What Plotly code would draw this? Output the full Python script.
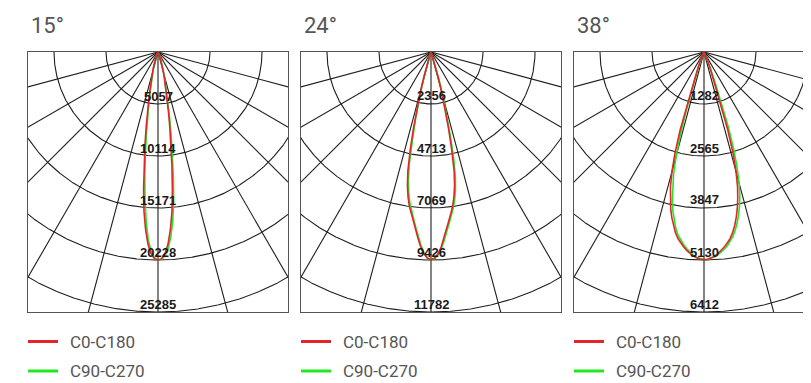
import numpy as np
import plotly.graph_objects as go

W, H = 811, 383
OFF = 8  # page body margin: the figure starts 8px in from the window corner

# angle from nadir (deg) for the intensity tables below
angles = [0, 1, 2, 3, 4, 5, 6, 7, 8, 9, 10, 11, 12, 13, 14, 15, 16, 17, 18, 19,
          20, 22, 25, 30, 40, 50, 60, 70, 80, 90]

titles = ["15°", "24°", "38°"]
legend_names = ["C0-C180", "C90-C270"]

# ring values (cd) per diagram
rings_15 = [5057, 10114, 15171, 20228, 25285]
rings_24 = [2356, 4713, 7069, 9426, 11782]
rings_38 = [1282, 2565, 3847, 5130, 6412]

# 15° beam
c0_c180_15 = [20250, 20100, 19600, 18700, 17300, 15600, 13400, 11100, 9100, 7300,
              5800, 4650, 3700, 3000, 2500, 2050, 1700, 1420, 1200, 980,
              800, 560, 350, 150, 60, 30, 15, 8, 4, 0]
c90_15 = [20250, 20150, 19800, 19100, 17950, 16500, 14500, 12300, 10100, 8200,
          6500, 5200, 4150, 3350, 2750, 2250, 1850, 1550, 1300, 1070,
          880, 610, 380, 165, 65, 32, 16, 8, 4, 0]
c270_15 = [20250, 20000, 19350, 18250, 16500, 14500, 12300, 10100, 8200, 6500,
           5200, 4150, 3300, 2700, 2250, 1850, 1550, 1300, 1100, 900,
           730, 510, 320, 135, 55, 28, 14, 7, 3, 0]

# 24° beam
c0_c180_24 = [9400, 9350, 9150, 8850, 8460, 8080, 7700, 7370, 7050, 6650,
              6150, 5500, 4500, 3500, 2600, 1800, 1150, 700, 450, 320,
              240, 140, 75, 35, 15, 8, 4, 2, 1, 0]
c90_24 = [9400, 9370, 9200, 8930, 8560, 8200, 7820, 7480, 7180, 6820,
          6380, 5800, 4950, 3900, 3000, 2150, 1400, 850, 540, 380,
          280, 150, 80, 38, 16, 8, 4, 2, 1, 0]
c270_24 = [9400, 9330, 9100, 8770, 8360, 7960, 7580, 7250, 6900, 6450,
           5900, 5150, 4000, 3100, 2250, 1500, 950, 580, 380, 270,
           200, 110, 60, 30, 14, 7, 4, 2, 1, 0]

# 38° beam
c0_c180_38 = [5120, 5110, 5080, 5040, 4980, 4910, 4830, 4740, 4640, 4510,
              4350, 4160, 3950, 3700, 3420, 3050, 2600, 2000, 1200, 700,
              500, 280, 140, 60, 25, 12, 6, 3, 1, 0]
c90_38 = [5120, 5115, 5090, 5060, 5010, 4950, 4880, 4800, 4700, 4590,
          4450, 4290, 4100, 3900, 3650, 3350, 2950, 2500, 1900, 1250,
          800, 350, 160, 70, 28, 13, 6, 3, 1, 0]
c270_38 = [5120, 5100, 5070, 5020, 4950, 4870, 4780, 4680, 4570, 4420,
           4230, 4010, 3760, 3450, 3100, 2650, 2100, 1450, 900, 560,
           380, 200, 110, 50, 22, 11, 5, 2, 1, 0]

panels = [
    (rings_15, c0_c180_15, c90_15, c270_15),
    (rings_24, c0_c180_24, c90_24, c270_24),
    (rings_38, c0_c180_38, c90_38, c270_38),
]

RED = "#e3242b"
GREEN = "#22e822"
GRID = "#1e1e1e"
TXT = "#555555"

BOX = 260
TOP = 52 - OFF
lefts = [28 - OFF, 301 - OFF, 574 - OFF]


def to_xy(ang, right, left):
    a = np.radians(np.concatenate([-np.array(ang[::-1], float), np.array(ang, float)]))
    v = np.concatenate([np.array(left[::-1], float), np.array(right, float)])
    return v * np.sin(a), -v * np.cos(a)


fig = go.Figure()
annotations = []
shapes = []

for i, (rings, red, c90, c270) in enumerate(panels):
    sfx = "" if i == 0 else str(i + 1)
    R = rings[-1]
    xa, ya = "x" + sfx, "y" + sfx

    # grid: rings + radial spokes
    gx, gy = [], []
    t = np.radians(np.linspace(-90, 90, 721))
    for r in rings:
        gx += list(r * np.sin(t)) + [None]
        gy += list(-r * np.cos(t)) + [None]
    for a in range(-75, 76, 15):
        ar = np.radians(a)
        gx += [0, 2 * R * np.sin(ar), None]
        gy += [0, -2 * R * np.cos(ar), None]
    fig.add_trace(go.Scatter(x=gx, y=gy, mode="lines", line=dict(color=GRID, width=1.1),
                             hoverinfo="skip", showlegend=False, xaxis=xa, yaxis=ya))

    gx2, gy2 = to_xy(angles, c90, c270)
    fig.add_trace(go.Scatter(x=gx2, y=gy2, mode="lines", name=legend_names[1],
                             line=dict(color=GREEN, width=1.6), showlegend=False,
                             xaxis=xa, yaxis=ya))
    rx, ry = to_xy(angles, red, red)
    fig.add_trace(go.Scatter(x=rx, y=ry, mode="lines", name=legend_names[0],
                             line=dict(color=RED, width=1.6), showlegend=False,
                             xaxis=xa, yaxis=ya))

    left = lefts[i]
    right = min(left + BOX, W)  # last diagram runs past the window edge
    fig.layout["xaxis" + sfx] = dict(
        domain=[left / W, right / W], range=[-R / 2, -R / 2 + R * (right - left) / BOX],
        showgrid=False, zeroline=False, showticklabels=False, ticks="",
        showline=True, mirror=True, linecolor="#555555", linewidth=1, fixedrange=True,
        anchor=ya)
    fig.layout["yaxis" + sfx] = dict(
        domain=[1 - (TOP + BOX) / H, 1 - TOP / H], range=[-R, 0],
        showgrid=False, zeroline=False, showticklabels=False, ticks="",
        showline=True, mirror=(i < 2), linecolor="#555555", linewidth=1, fixedrange=True,
        anchor=xa)

    for r in rings:
        annotations.append(dict(x=0, y=-r, xref=xa, yref=ya, text=str(r), showarrow=False,
                                yanchor="middle", yshift=8,
                                font=dict(family="Liberation Sans, Arial", size=13,
                                          color="#1a1a1a", weight="bold")))

    annotations.append(dict(x=(left + 1) / W, y=1 - (25 - OFF) / H, xref="paper", yref="paper",
                            text=titles[i], showarrow=False, xanchor="left", yanchor="middle",
                            font=dict(family="Roboto", size=22, color=TXT)))

    for k, (col, ypx) in enumerate([(RED, 341.5 - OFF), (GREEN, 371 - OFF)]):
        shapes.append(dict(type="line", xref="paper", yref="paper",
                           x0=left / W, x1=(left + 30) / W, y0=1 - ypx / H, y1=1 - ypx / H,
                           line=dict(color=col, width=3)))
        annotations.append(dict(x=(left + 40) / W, y=1 - ypx / H, xref="paper", yref="paper",
                                text=legend_names[k], showarrow=False, xanchor="left",
                                yanchor="middle",
                                font=dict(family="Roboto", size=17, color=TXT)))

fig.update_layout(
    width=W, height=H, margin=dict(l=0, r=0, t=0, b=0),
    paper_bgcolor="white", plot_bgcolor="white",
    annotations=annotations, shapes=shapes, showlegend=False,
)

fig.write_html("out.html")
